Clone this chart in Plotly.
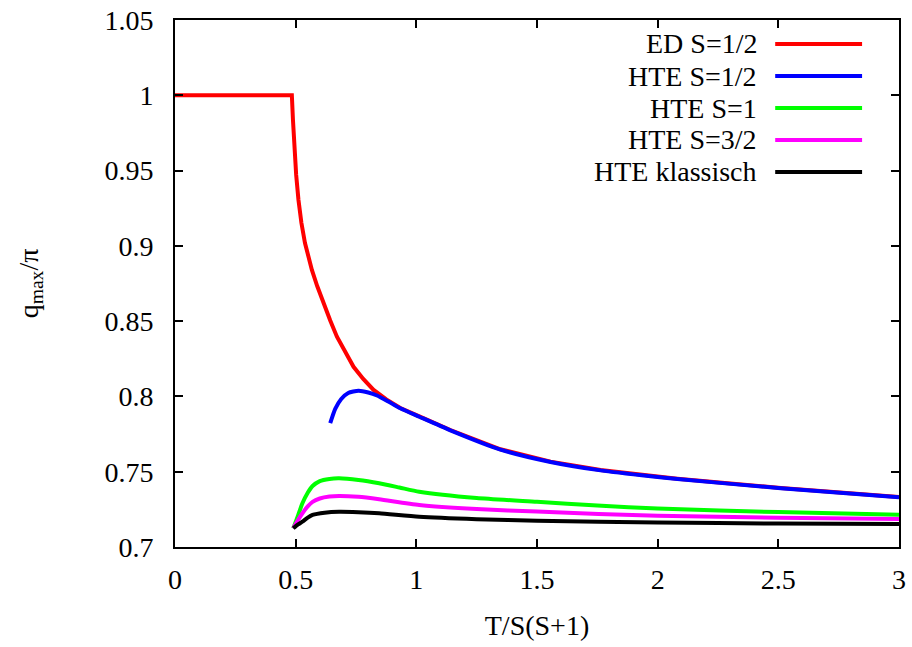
import plotly.graph_objects as go

# ED S=1/2
ed_x = [0.0, 0.25, 0.4842, 0.4888, 0.4946, 0.5021, 0.5116, 0.5237, 0.5386, 0.5539, 0.5672, 0.5892, 0.6154,
        0.6432, 0.6710, 0.7054, 0.7398, 0.7801, 0.8228, 0.8755, 0.9336, 1.0124, 1.1411, 1.3485, 1.5560,
        1.7635, 1.9710, 2.0817, 2.5104, 3.0]
ed_y = [1.0, 1.0, 1.0, 0.9836, 0.9657, 0.9471, 0.9305, 0.9153, 0.9019, 0.8920, 0.8840, 0.8733, 0.8619,
        0.8504, 0.8397, 0.8292, 0.8197, 0.8116, 0.8043, 0.7980, 0.7923, 0.7867, 0.7777, 0.7649, 0.7567,
        0.7511, 0.7472, 0.7454, 0.7392, 0.7332]

# HTE S=1/2
h12_x = [0.6432, 0.6639, 0.6888, 0.7178, 0.7606, 0.8008, 0.8369, 0.8838, 0.9336, 1.0124, 1.1411, 1.3485,
         1.5560, 1.7635, 1.9710, 2.0817, 2.5104, 3.0]
h12_y = [0.7822, 0.7917, 0.7983, 0.8023, 0.8038, 0.8026, 0.8006, 0.7966, 0.7921, 0.7865, 0.7775, 0.7647,
         0.7565, 0.7509, 0.7470, 0.7452, 0.7390, 0.7330]

# HTE S=1
h1_x = [0.49, 0.51, 0.528, 0.55, 0.57, 0.60, 0.64, 0.68, 0.76, 0.846, 0.93, 1.012, 1.25, 1.5, 1.75, 2.0, 2.5, 3.0]
h1_y = [0.7124, 0.721, 0.729, 0.736, 0.7405, 0.7438, 0.7452, 0.7456, 0.7445, 0.7423, 0.7395, 0.7367, 0.7325,
        0.730, 0.7275, 0.7255, 0.7232, 0.7215]

# HTE S=3/2
h32_x = [0.49, 0.51, 0.528, 0.55, 0.57, 0.60, 0.64, 0.68, 0.76, 0.846, 1.012, 1.25, 1.5, 2.0, 2.5, 3.0]
h32_y = [0.7124, 0.718, 0.7224, 0.727, 0.730, 0.7322, 0.7335, 0.7339, 0.7333, 0.7317, 0.7279, 0.7252,
         0.7235, 0.7207, 0.7195, 0.7186]

# HTE klassisch
hcl_x = [0.49, 0.51, 0.528, 0.55, 0.57, 0.62, 0.68, 0.76, 0.846, 1.012, 1.25, 1.5, 2.0, 2.5, 3.0]
hcl_y = [0.7124, 0.715, 0.7168, 0.7195, 0.7213, 0.7228, 0.7234, 0.7231, 0.7224, 0.7201, 0.7185, 0.7175,
         0.7162, 0.7156, 0.7152]

series = [
    ("ED S=1/2", ed_x, ed_y, "#ff0000", "linear"),
    ("HTE S=1/2", h12_x, h12_y, "#0000ff", "spline"),
    ("HTE S=1", h1_x, h1_y, "#00ff00", "spline"),
    ("HTE S=3/2", h32_x, h32_y, "#ff00ff", "spline"),
    ("HTE klassisch", hcl_x, hcl_y, "#000000", "spline"),
]

x_ticks = [0, 0.5, 1, 1.5, 2, 2.5, 3]
x_tick_labels = ["0", "0.5", "1", "1.5", "2", "2.5", "3"]
y_ticks = [0.7, 0.75, 0.8, 0.85, 0.9, 0.95, 1.0, 1.05]
y_tick_labels = ["0.7", "0.75", "0.8", "0.85", "0.9", "0.95", "1", "1.05"]

FONT = "Liberation Serif"
FS = 28
fig = go.Figure()
for name, xs, ys, col, shp in series:
    line = dict(color=col, width=4, shape=shp)
    if shp == "spline":
        line["smoothing"] = 0.6
    fig.add_trace(go.Scatter(x=xs, y=ys, mode="lines", name=name, line=line, showlegend=False))

# gnuplot-style legend: right-aligned text, line sample at right
leg_y = [0.9545, 0.8937, 0.8330, 0.7723, 0.7116]
for (name, xs, ys, col, shp), ly in zip(series, leg_y):
    fig.add_annotation(x=0.806, y=ly, xref="paper", yref="paper", text=name, showarrow=False,
                       xanchor="right", yanchor="middle", font=dict(family=FONT, size=FS, color="black"))
    fig.add_shape(type="line", xref="paper", yref="paper", x0=0.829, x1=0.949, y0=ly, y1=ly,
                  line=dict(color=col, width=4))

fig.update_layout(
    width=912, height=647,
    margin=dict(l=175, r=13, t=20, b=100, autoexpand=False),
    paper_bgcolor="white", plot_bgcolor="white",
    font=dict(family=FONT, size=FS, color="black"),
)
fig.update_xaxes(range=[0, 3], tickvals=x_ticks, ticktext=x_tick_labels, automargin=False,
                 showline=True, linecolor="black", linewidth=2, mirror="ticks",
                 ticks="inside", ticklen=8, tickwidth=2, tickcolor="black",
                 showgrid=False, zeroline=False, ticklabelstandoff=6,
                 tickfont=dict(family=FONT, size=FS),
                 title=dict(text="T/S(S+1)", standoff=22, font=dict(family=FONT, size=FS)))
fig.update_yaxes(range=[0.7, 1.05], tickvals=y_ticks, ticktext=y_tick_labels, automargin=False,
                 showline=True, linecolor="black", linewidth=2, mirror="ticks",
                 ticks="inside", ticklen=8, tickwidth=2, tickcolor="black",
                 showgrid=False, zeroline=False, ticklabelstandoff=14,
                 tickfont=dict(family=FONT, size=FS),
                 title=dict(text="q<sub>max</sub>/π", standoff=58, font=dict(family=FONT, size=FS)))

fig.write_html("out.html", config={"displayModeBar": False},
               post_script="document.body.style.margin='0';document.body.style.overflow='hidden';")
